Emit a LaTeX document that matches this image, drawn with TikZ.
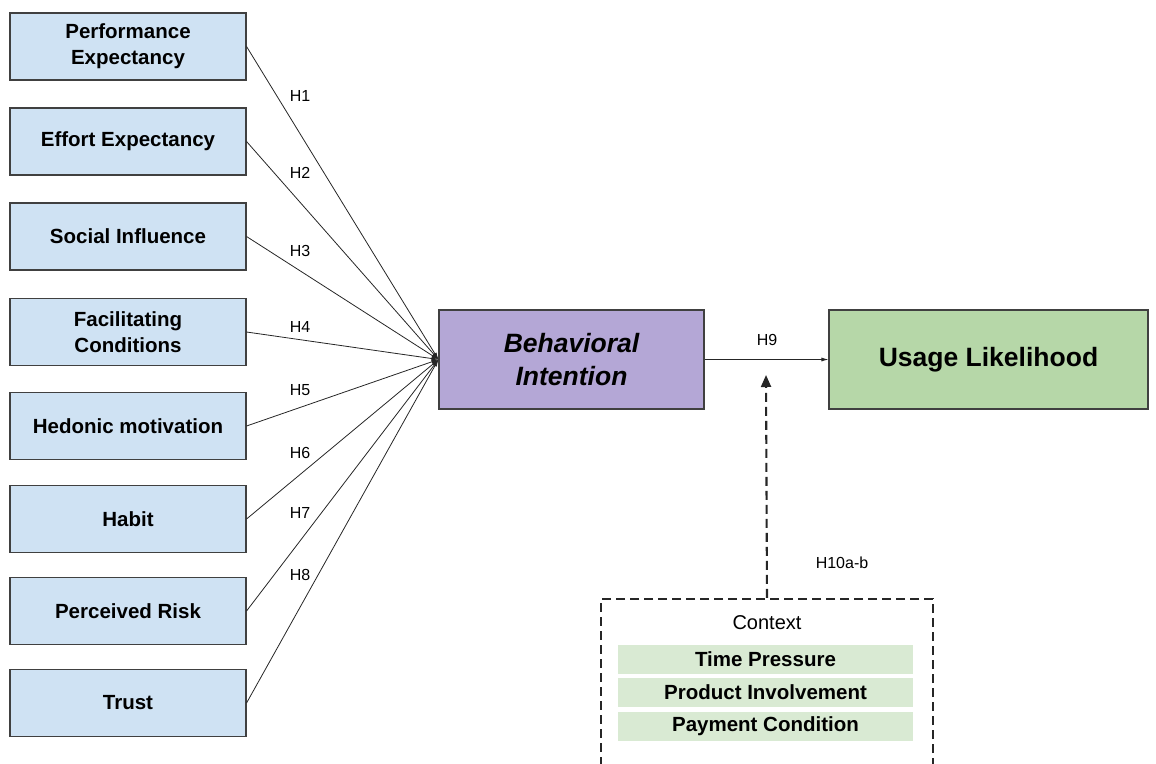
\documentclass[tikz,border=0pt]{standalone}
\usepackage{fontspec}
\setmainfont{Liberation Sans}
\usetikzlibrary{arrows.meta}

\definecolor{factorblue}{HTML}{CFE2F3}
\definecolor{intentpurple}{HTML}{B4A7D6}
\definecolor{usagegreen}{HTML}{B6D7A8}
\definecolor{contextgreen}{HTML}{D9EAD3}

\begin{document}
\begin{tikzpicture}[x=10pt, y=-10pt,
	factor/.style={draw=black!75, line width=1.1pt, fill=factorblue, minimum width=236pt, minimum height=67pt, inner sep=0pt, align=center, font=\fontsize{20.5}{26}\selectfont\bfseries},
	hyp/.style={draw=black!85, line width=0.8pt, -{Latex[length=7pt,width=4pt]}},
	hlabel/.style={font=\fontsize{16}{19}\selectfont},
	moder/.style={draw=black!85, line width=2.1pt, dash pattern=on 9pt off 5pt},
	ctxitem/.style={fill=contextgreen, minimum width=295pt, minimum height=29pt, inner sep=0pt, font=\fontsize{20.5}{24}\selectfont\bfseries}]
	\useasboundingbox (0,0) rectangle (115.6,76.3);
	\clip (0,0) rectangle (115.6,76.3);

	% determinants on the left
	\draw (12.8,4.65) node[factor](perf) {Performance\\Expectancy};
	\draw (12.8,14.15) node[factor](effort) {Effort Expectancy};
	\draw (12.8,23.65) node[factor](social) {Social Influence};
	\draw (12.8,33.2) node[factor](facil) {Facilitating\\Conditions};
	\draw (12.8,42.6) node[factor](hedonic) {Hedonic motivation};
	\draw (12.8,51.9) node[factor](habit) {Habit};
	\draw (12.8,61.1) node[factor](risk) {Perceived Risk};
	\draw (12.8,70.3) node[factor](trust) {Trust};

	% intention and outcome
	\draw (57.15,35.95) node[draw=black!75, line width=1.1pt, fill=intentpurple, minimum width=265pt, minimum height=99pt, align=center, font=\fontsize{26.5}{33}\selectfont\bfseries\itshape](intent) {Behavioral\\Intention};
	\draw (98.85,35.95) node[draw=black!75, line width=1.1pt, fill=usagegreen, minimum width=319pt, minimum height=99pt, font=\fontsize{26.5}{32}\selectfont\bfseries](usage) {Usage Likelihood};

	% hypotheses H1-H8
	\draw[hyp] (perf.east) -- (intent.west);
	\draw[hyp] (effort.east) -- (intent.west);
	\draw[hyp] (social.east) -- (intent.west);
	\draw[hyp] (facil.east) -- (intent.west);
	\draw[hyp] (hedonic.east) -- (intent.west);
	\draw[hyp] (habit.east) -- (intent.west);
	\draw[hyp] (risk.east) -- (intent.west);
	\draw[hyp] (trust.east) -- (intent.west);
	\draw (30,9.6) node[hlabel](h1) {H1};
	\draw (30,17.3) node[hlabel](h2) {H2};
	\draw (30,25.1) node[hlabel](h3) {H3};
	\draw (30,32.7) node[hlabel](h4) {H4};
	\draw (30,39.0) node[hlabel](h5) {H5};
	\draw (30,45.3) node[hlabel](h6) {H6};
	\draw (30,51.3) node[hlabel](h7) {H7};
	\draw (30,57.5) node[hlabel](h8) {H8};

	% H9
	\draw[hyp] (intent.east) -- (usage.west);
	\draw (76.7,34.0) node[hlabel](h9) {H9};

	% moderating context
	\draw (76.7,69.9) node[moder, minimum width=332pt, minimum height=200pt](ctx) {};
	\draw (76.7,62.3) node[font=\fontsize{20}{24}\selectfont](ctxname) {Context};
	\draw (76.55,65.95) node[ctxitem](time) {Time Pressure};
	\draw (76.55,69.25) node[ctxitem](involve) {Product Involvement};
	\draw (76.55,72.65) node[ctxitem](payment) {Payment Condition};
	\coordinate (modtip) at (76.6,37.5);
	\draw[moder, -{Triangle[length=12pt,width=10pt]}] (ctx.north) -- (modtip);
	\draw (84.2,56.3) node[hlabel](h10) {H10a-b};
\end{tikzpicture}
\end{document}
